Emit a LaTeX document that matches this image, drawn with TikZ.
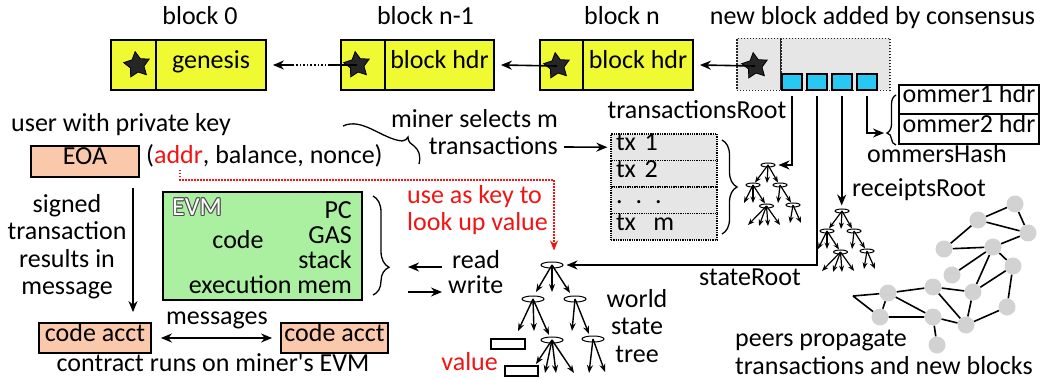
\documentclass[tikz,border=0pt]{standalone}
\usepackage{fontspec}
\setmainfont{Carlito}
\usetikzlibrary{arrows.meta,shapes.geometric,decorations.pathreplacing,backgrounds,calc}
\definecolor{blkyellow}{RGB}{240,250,50}
\definecolor{peach}{RGB}{250,200,170}
\definecolor{evmgreen}{RGB}{170,240,160}
\definecolor{sqcyan}{RGB}{40,200,245}
\definecolor{lgray}{RGB}{230,230,230}
\definecolor{peergray}{RGB}{210,210,210}
\definecolor{keyred}{RGB}{240,20,20}

\newcommand{\hollowtxt}[1]{%
  \leavevmode\rlap{\color{black!70}%
    \rlap{\kern-0.9pt #1}%
    \rlap{\kern0.9pt #1}%
    \rlap{\raisebox{0.9pt}{#1}}%
    \rlap{\raisebox{-0.9pt}{#1}}%
    \rlap{\kern-0.65pt\raisebox{0.65pt}{#1}}%
    \rlap{\kern0.65pt\raisebox{0.65pt}{#1}}%
    \rlap{\kern-0.65pt\raisebox{-0.65pt}{#1}}%
    \rlap{\kern0.65pt\raisebox{-0.65pt}{#1}}}%
  \textcolor{white}{#1}}

\tikzset{
  lab/.style={inner sep=0pt, text height=0.7em, text depth=0pt},
  multi/.style={inner sep=0pt},
  box/.style={draw, line width=1.8pt, inner sep=0pt, text height=0.7em, text depth=0pt},
  blk/.style={box, fill=blkyellow, minimum height=50pt},
  newblk/.style={box, draw=black!85, fill=lgray, minimum height=52pt, line width=1.4pt, dash pattern=on 1.4pt off 1.6pt},
  starnode/.style={star, star points=5, star point ratio=1.9, fill=black!85, draw=black, line width=0.8pt, minimum size=27pt, inner sep=0pt, shape border rotate=8},
  sq/.style={draw, line width=1.6pt, fill=sqcyan, minimum width=20pt, minimum height=16pt, inner sep=0pt},
  conn/.style={line width=1.6pt},
  arr/.style={conn, -{Stealth[length=11pt,width=9pt]}},
  dblarr/.style={conn, {Stealth[length=11pt,width=9pt]}-{Stealth[length=11pt,width=9pt]}},
  keyline/.style={draw=keyred, line width=1.5pt, dash pattern=on 1.5pt off 1.5pt, -{Stealth[length=10pt,width=8pt]}},
  tell/.style={ellipse, draw, line width=1pt, inner sep=0pt},
  tarr/.style={line width=1.2pt, -{Stealth[length=6.5pt,width=5pt]}},
  tarrw/.style={line width=1.4pt, -{Stealth[length=8pt,width=6pt]}},
  txrow/.style={draw, line width=1.3pt, densely dotted, fill=lgray, minimum height=26.5pt, text width=96pt, align=left, inner xsep=5pt, inner ysep=0pt, text height=0.7em, text depth=0pt},
  brc/.style={decorate, line width=1.3pt},
  peer/.style={circle, fill=peergray, minimum size=17pt, inner sep=0pt},
  vbox/.style={draw, line width=1.3pt, fill=white, inner sep=0pt},
  pics/minitree/.style={code={
    \node[tell, minimum width=14pt, minimum height=4pt] (-r) at (0,0) {};
    \node[tell, minimum width=14pt, minimum height=4pt] (-a) at (-15,20) {};
    \node[tell, minimum width=14pt, minimum height=4pt] (-b) at (12,20) {};
    \node[tell, minimum width=14pt, minimum height=4pt] (-c) at (-1.5,41) {};
    \node[tell, minimum width=14pt, minimum height=4pt] (-d) at (25,40) {};
    \draw[tarr] (-r.center) -- (-13,17.5);
    \draw[tarr] (-r.center) -- (-1,18);
    \draw[tarr] (-r.center) -- (10,17.5);
    \draw[tarr] (-a.center) -- (-24,38);
    \draw[tarr] (-a.center) -- (-15,38);
    \draw[tarr] (-a.center) -- (-3,38.5);
    \draw[tarr] (-b.center) -- (10,38);
    \draw[tarr] (-b.center) -- (23,37.5);
    \draw[tarr] (-c.center) -- (-20,60);
    \draw[tarr] (-c.center) -- (-9,61);
    \draw[tarr] (-c.center) -- (0,61);
    \draw[tarr] (-c.center) -- (12,60);
    \draw[tarr] (-d.center) -- (22,58);
    \draw[tarr] (-d.center) -- (33,58);
  }}
}

\begin{document}
\begin{tikzpicture}[x=1pt,y=-1pt,font=\fontsize{26}{27.5}\selectfont]
\useasboundingbox (0,0) rectangle (1043,379);

% ---------- top labels
\node[lab] (lb0) at (200,21) {block 0};
\node[lab] (lb1) at (425.5,21) {block n-1};
\node[lab] (lb2) at (622,21) {block n};
\node[lab] (lb3) at (872.5,21) {new block added by consensus};

% ---------- blocks
\node[blk, minimum width=45pt] (c0) at (133.5,65) {};
\node[blk, minimum width=110pt] (g0) at (211,65) {genesis};
\node[blk, minimum width=44pt] (c1) at (363,65) {};
\node[blk, minimum width=109pt] (h1) at (439.5,65) {block hdr};
\node[blk, minimum width=43pt] (c2) at (561.5,65) {};
\node[blk, minimum width=110pt] (h2) at (638,65) {block hdr};
\node[newblk, minimum width=44pt] (c3) at (759,64.5) {};
\node[newblk, minimum width=109pt] (b3) at (835.5,64.5) {};

\node[starnode] (s0) at (137,65) {};
\node[starnode] (s1) at (357,65) {};
\node[starnode] (s2) at (557,66) {};
\node[starnode] (s3) at (755,66) {};

\node[sq] (q1) at (791.7,82) {};
\node[sq] (q2) at (816.7,82) {};
\node[sq] (q3) at (841.7,82) {};
\node[sq] (q4) at (867,82) {};

\coordinate (d1) at (330,65);
\coordinate (d2) at (292,65);
\draw[conn] (s1.center) -- (d1);
\draw[conn, dash pattern=on 1.6pt off 2pt] (d1) -- (d2);
\draw[arr] (d2) -- ([xshift=6pt]g0.east);
\draw[arr] (s2.center) -- ([xshift=6pt]h1.east);
\draw[arr] (s3.center) -- ([xshift=6pt]h2.east);

% ---------- ommers
\node[box, fill=white, minimum width=140pt, minimum height=29pt] (om1) at (969,99.5) {ommer1 hdr};
\node[box, fill=white, minimum width=140pt, minimum height=30pt] (om2) at (969,129) {ommer2 hdr};
\draw[brc, decoration={brace, amplitude=9pt, aspect=0.24}] (896,145) -- (896,95);
\coordinate (omtip) at (884,133);
\node[lab, anchor=west] (omh) at (867,159) {ommersHash};

% ---------- transactions list
\node[lab] (txr) at (697,115) {transactionsRoot};
\node[txrow] (tx1) at (664,147.25) {tx 1};
\node[txrow] (tx2) at (664,173.75) {tx 2};
\node[txrow] (txd) at (664,200.25) {. . .};
\node[txrow] (txm) at (664,226.75) {tx~~m};
\draw[brc, decoration={brace, amplitude=15pt, aspect=0.5}] (722,140) -- (722,234);

\pic (t1) at (768,165) {minitree};
\pic (t2) at (842,211) {minitree};
\node[lab, anchor=west] (rcp) at (852,193) {receiptsRoot};

% ---------- connectors from header squares
\draw[arr, shorten <=5pt] (q1.south) |- ([xshift=3pt]t1-r.east);
\draw[arr, shorten <=5pt] (q3.south) -- ([yshift=3pt]q3.south |- t2-r.north);
\draw[arr, shorten <=5pt] (q4.south) |- (omtip);

% ---------- world state tree
\node[tell, minimum width=22pt, minimum height=6pt] (w0) at (552,265) {};
\node[tell, minimum width=22pt, minimum height=6pt] (w1) at (533,299) {};
\node[tell, minimum width=22pt, minimum height=6pt] (w2) at (575,299) {};
\node[tell, minimum width=22pt, minimum height=6pt] (w3) at (552,340) {};
\node[tell, minimum width=22pt, minimum height=6pt] (w4) at (593,339) {};
\node[vbox, minimum width=34pt, minimum height=10pt] (v1) at (508,344) {};
\node[vbox, minimum width=33pt, minimum height=10pt] (v2) at (521.5,371) {};
\draw[tarrw] (w0.center) -- (536,292);
\draw[tarrw] (w0.center) -- (552,292);
\draw[tarrw] (w0.center) -- (570,293);
\draw[tarrw] (w1.center) -- (518,331);
\draw[tarrw] (w1.center) -- (534,331);
\draw[tarrw] (w1.center) -- (549,335);
\draw[tarrw] (w2.center) -- (572,331);
\draw[tarrw] (w2.center) -- (589,334);
\draw[tarrw] (w3.center) -- (536,364);
\draw[tarrw] (w3.center) -- (545,373);
\draw[tarrw] (w3.center) -- (556,373);
\draw[tarrw] (w3.center) -- (574,373);
\draw[tarrw] (w4.center) -- (589,373);
\draw[tarrw] (w4.center) -- (605,372);
\node[lab, anchor=east, text=keyred] (val) at (498,367) {value};
\node[multi, align=center] (wst) at (637,326) {world\\state\\tree};
\draw[arr, shorten <=5pt] (q2.south) |- ([xshift=3pt]w0.east);
\node[lab] (str) at (750,282) {stateRoot};

\node[lab, anchor=west] (read) at (452,265) {read};
\node[lab, anchor=west] (write) at (448,290) {write};
\draw[arr] ([xshift=-10pt,yshift=-2pt]read.west) -- ++(-34,0);
\draw[arr] ([xshift=-40pt,yshift=-2pt]write.west) -- ++(34,0);

% ---------- EOA
\node[lab] (user) at (121,128) {user with private key};
\node[box, fill=peach, minimum width=108pt, minimum height=31pt] (eoa) at (85,161.5) {EOA};
\node[lab, anchor=west] (eoatxt) at (146,160) {(\textcolor{keyred}{addr}, balance, nonce)};
\coordinate (addrpt) at (180,170);
\draw[keyline] (addrpt) -- (180,180) -| ($(w0.north)+(2,-11)$);
\node[multi, align=left, text=keyred, anchor=west] (usekey) at (407,210) {use as key to\\look up value};

% ---------- miner selects
\node[multi, align=right, anchor=east] (miner) at (558,132) {miner selects m\\transactions};
\draw[arr, shorten >=3pt] ($(miner.east)+(6,15)$) -- (tx1.west);
\draw[line width=1.3pt] (343,126) .. controls (362,117) and (382,139) .. (402,141)
  .. controls (405,141) and (407,139) .. (408,137)
  .. controls (408,142) and (411,144) .. (414,146)
  .. controls (419,150) and (421,156) .. (419,164);

% ---------- EVM
\node[box, fill=evmgreen, minimum width=199pt, minimum height=108pt] (evm) at (262.5,246) {};
\node[lab, anchor=west] (evmlbl) at (172,212) {\hollowtxt{EVM}};
\node[lab] (code) at (238,245) {code};
\node[multi, align=right, anchor=east, font=\fontsize{26}{25}\selectfont] (regs) at (352,247.5) {PC\\GAS\\stack\\execution mem};
\draw[brc, decoration={brace, amplitude=16pt, aspect=0.72}] (373,196) -- (373,295);

% ---------- signed transaction / code accounts
\node[multi, align=center] (signed) at (67,246.5) {signed\\transaction\\results in\\message};
\node[box, fill=peach, minimum width=112pt, minimum height=30pt] (ca1) at (95,338) {code acct};
\node[box, fill=peach, minimum width=107pt, minimum height=30pt] (ca2) at (334.5,338) {code acct};
\coordinate (sg1) at (133,188);
\draw[arr, shorten >=10pt] (sg1) -- (sg1 |- ca1.north);
\draw[dblarr, shorten <=9pt, shorten >=8pt] (ca1) -- (ca2);
\node[lab] (msgs) at (217,321) {messages};
\node[lab] (contract) at (213,368) {contract runs on miner\textquotesingle s EVM};

% ---------- peers
\node[peer] (pA) at (1015,204) {};
\node[peer] (pB) at (978,220) {};
\node[peer] (pC) at (1028,233) {};
\node[peer] (pD) at (944,249) {};
\node[peer] (pE) at (993,247) {};
\node[peer] (pF) at (1013,266) {};
\node[peer] (pG) at (952,275) {};
\node[peer] (pH) at (973,292) {};
\node[peer] (pI) at (933,287) {};
\node[peer] (pJ) at (888,293) {};
\node[peer] (pK) at (1007,307) {};
\node[peer] (pL) at (880,317) {};
\node[peer] (pM) at (933,317) {};
\node[peer] (pN) at (966,325) {};
\node[peer] (pO) at (937,345) {};
\coordinate (pk) at (853,296);
\begin{scope}[on background layer]
\draw[conn] (pA) -- (pB) (pA) -- (pC) (pB) -- (pC) (pB) -- (pD) (pD) -- (pE)
  (pE) -- (pC) (pE) -- (pF) (pE) -- (pG) (pE) -- (pH) (pF) -- (pH) (pF) -- (pK)
  (pK) -- (pN) (pH) -- (pN) (pI) -- (pH) (pI) -- (pN) (pJ) -- (pI) (pJ) -- (pM)
  (pJ) -- (pL) (pL) -- (pM) (pM) -- (pN) (pM) -- (pO) (pk) -- (pJ) (pk) -- (pL);
\end{scope}
\node[multi, align=left, anchor=west] (peers) at (735,352.5) {peers propagate\\transactions and new blocks};
\end{tikzpicture}
\end{document}
